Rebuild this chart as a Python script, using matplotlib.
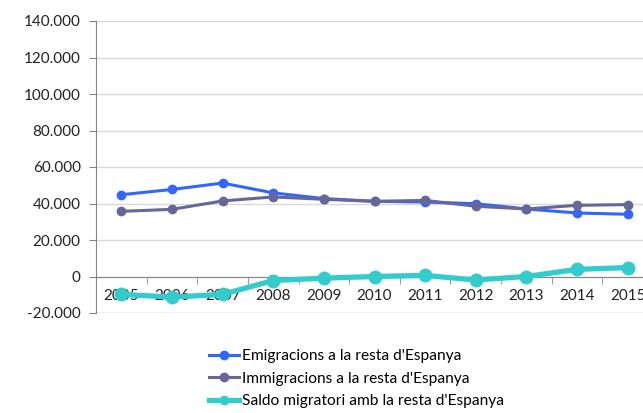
import matplotlib.pyplot as plt
from matplotlib.ticker import FuncFormatter, FixedLocator
import numpy as np

plt.rcParams['font.family'] = ['Lato', 'DejaVu Sans']

years = ['2005', '2006', '2007', '2008', '2009', '2010',
         '2011', '2012', '2013', '2014', '2015']
emigracions = [44800, 47700, 51200, 45800, 42700, 41200,
               40800, 39900, 37000, 34800, 34100]
immigracions = [35700, 36800, 41400, 43600, 42300, 41200,
                41700, 38500, 37000, 39000, 39400]
saldo = [-9800, -11300, -9800, -2200, -900, 0,
         600, -1900, 0, 3900, 4900]

labels = ["Emigracions a la resta d'Espanya",
          "Immigracions a la resta d'Espanya",
          "Saldo migratori amb la resta d'Espanya"]
colors = ['#3366FF', '#666699', '#33CCCC']

fig = plt.figure(figsize=(6.43, 4.13), dpi=100)
# the category axis runs a little past the right edge of the figure
ax = fig.add_axes([96 / 643, 100 / 413, 557 / 643, 292 / 413])

x = np.arange(len(years))
ax.plot(x, emigracions, color=colors[0], lw=2.2, marker='o', ms=6,
        label=labels[0], zorder=3)
ax.plot(x, immigracions, color=colors[1], lw=2.2, marker='o', ms=6,
        label=labels[1], zorder=4)
ax.plot(x, saldo, color=colors[2], lw=3.8, marker='o', ms=9,
        label=labels[2], zorder=5)

ax.set_xlim(-0.5, len(years) - 0.5)
ax.set_ylim(-20000, 140000)
ax.set_yticks(np.arange(-20000, 140001, 20000))
ax.yaxis.set_major_formatter(FuncFormatter(lambda v, p: f"{int(v):,}".replace(',', '.')))
ax.grid(axis='y', color='#D9D9D9', lw=1)
ax.set_axisbelow(True)

for s in ['top', 'right']:
    ax.spines[s].set_visible(False)
ax.spines['left'].set_color('#868686')
ax.spines['bottom'].set_color('#868686')
ax.spines['bottom'].set_position(('data', 0))
ax.axhline(-20000, color='#D9D9D9', lw=1, zorder=1)

ax.set_xticks(x)
ax.set_xticklabels(years)
ax.xaxis.set_minor_locator(FixedLocator(np.arange(0.5, len(years) - 0.5, 1)))
ax.tick_params(axis='x', which='major', length=0, pad=9, labelsize=11, colors='#222222')
ax.tick_params(axis='x', which='minor', length=5, color='#868686')
ax.tick_params(axis='y', length=5, color='#868686', labelsize=11, colors='#222222', pad=6)

leg = fig.legend(loc='upper left', bbox_to_anchor=(203 / 643, 1 - 343 / 413),
                 frameon=False, fontsize=11.2, handlelength=1.9, handletextpad=0.2,
                 labelspacing=0.55, borderaxespad=0)
for h in leg.legend_handles:
    h.set_markersize(6)

fig.savefig('out.png', dpi=100)
